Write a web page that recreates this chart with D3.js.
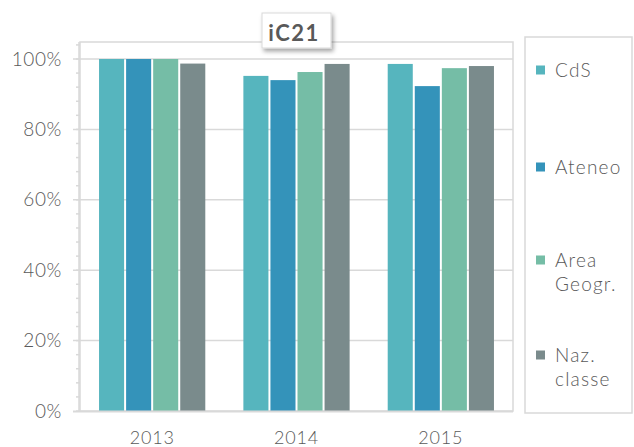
<!DOCTYPE html>
<html><head><meta charset="utf-8">
<script src="https://cdn.jsdelivr.net/npm/d3@7"></script>
<style>body{margin:0;background:#fff;} svg{display:block;font-family:"Lato","Open Sans",sans-serif;}</style>
</head><body>
<svg id="c" width="634" height="447"></svg>
<script>
const years = ["2013", "2014", "2015"];
const seriesNames = ["CdS", "Ateneo", "Area Geogr.", "Naz. classe"];
const legendLines = [["CdS"], ["Ateneo"], ["Area", "Geogr."], ["Naz.", "classe"]];
const cds = [100, 95.2, 98.6];
const ateneo = [100, 94.0, 92.3];
const area = [100, 96.3, 97.4];
const naz = [98.7, 98.6, 98.0];
const colors = ["#56B5BE", "#3493BA", "#75BDA6", "#7A8B8C"];
const yTicks = [0, 20, 40, 60, 80, 100];
const title = "iC21";

const values = [cds, ateneo, area, naz];
const svg = d3.select("#c");
const M = {l: 80, r: 513, t: 42, b: 411};
const y = d3.scaleLinear().domain([0, 100]).range([M.b, 59]);
const x0 = d3.scaleBand().domain(years).range([M.l, M.r]).paddingInner(0.25).paddingOuter(0.125);
const x1 = d3.scaleBand().domain(seriesNames).range([0, x0.bandwidth()]).padding(0);
const FONT = "Lato, 'Open Sans', sans-serif";
const TXT = "#595959";

svg.append("rect").attr("x", M.l).attr("y", M.t).attr("width", M.r - M.l).attr("height", M.b - M.t)
  .attr("fill", "none").attr("stroke", "#d9d9d9").attr("stroke-width", 1.5);

const minor = d3.range(0, 105, 4);
svg.append("g").selectAll("line").data(minor).join("line")
  .attr("x1", 76).attr("x2", M.l).attr("y1", d => y(d)).attr("y2", d => y(d))
  .attr("stroke", "#d9d9d9").attr("stroke-width", 1.5);

svg.append("g").selectAll("line").data(yTicks.filter(d => d > 0)).join("line")
  .attr("x1", 73).attr("x2", M.r).attr("y1", d => y(d)).attr("y2", d => y(d))
  .attr("stroke", "#d9d9d9").attr("stroke-width", 1.5);

svg.append("line").attr("x1", 79).attr("x2", 79).attr("y1", M.t).attr("y2", M.b)
  .attr("stroke", "#d9d9d9").attr("stroke-width", 1.5);

const yAxis = d3.axisLeft(y).tickValues(yTicks).tickFormat(d => d + "%").tickSize(0).tickPadding(0);
const ya = svg.append("g").attr("transform", "translate(62,0)").call(yAxis);
ya.select(".domain").remove();
ya.selectAll("text").attr("font-size", 19).attr("font-weight", 300).attr("letter-spacing", "0.6px")
  .attr("fill", TXT).attr("font-family", FONT);

const g = svg.append("g");
years.forEach((yr, i) => {
  const gg = g.append("g").attr("transform", `translate(${x0(yr)},0)`);
  gg.selectAll("rect").data(seriesNames.map((s, j) => ({s, v: values[j][i], c: colors[j]}))).join("rect")
    .attr("x", d => x1(d.s) + 1).attr("width", x1.bandwidth() - 2)
    .attr("y", d => y(d.v)).attr("height", d => y(0) - y(d.v))
    .attr("fill", d => d.c);
});

svg.append("line").attr("x1", 73).attr("x2", M.r).attr("y1", M.b + 0.5).attr("y2", M.b + 0.5)
  .attr("stroke", "#d9d9d9").attr("stroke-width", 2);

const xAxis = d3.axisBottom(x0).tickSize(0).tickPadding(0);
const xa = svg.append("g").attr("transform", `translate(0,${M.b + 20})`).call(xAxis);
xa.select(".domain").remove();
xa.selectAll("text").attr("font-size", 18).attr("font-weight", 300).attr("letter-spacing", "0.8px")
  .attr("fill", TXT).attr("dy", "0.71em").attr("font-family", FONT);

const defs = svg.append("defs");
const f = defs.append("filter").attr("id", "sh").attr("x", "-20%").attr("y", "-20%").attr("width", "150%").attr("height", "160%");
f.append("feDropShadow").attr("dx", 2).attr("dy", 3).attr("stdDeviation", 2).attr("flood-color", "#000").attr("flood-opacity", 0.35);
svg.append("rect").attr("x", 262).attr("y", 13).attr("width", 69).attr("height", 35)
  .attr("fill", "#fff").attr("stroke", "#d9d9d9").attr("stroke-width", 1).attr("filter", "url(#sh)");
svg.append("text").attr("x", 294).attr("y", 41).attr("text-anchor", "middle")
  .attr("font-size", 22).attr("font-weight", "bold").attr("letter-spacing", "1.5px")
  .attr("fill", TXT).attr("font-family", FONT).text(title);

svg.append("rect").attr("x", 525).attr("y", 37).attr("width", 107).attr("height", 376)
  .attr("fill", "#fff").attr("stroke", "#d9d9d9").attr("stroke-width", 1.5);
const legY = [70, 167, 260, 355];
legendLines.forEach((lines, j) => {
  svg.append("rect").attr("x", 536).attr("y", legY[j] - 4.5).attr("width", 9).attr("height", 9).attr("fill", colors[j]);
  lines.forEach((t, k) => {
    svg.append("text").attr("x", 555).attr("y", legY[j] + k * 24).attr("dy", "0.35em")
      .attr("font-size", 19).attr("font-weight", 300).attr("letter-spacing", "1.2px")
      .attr("fill", TXT).attr("font-family", FONT).text(t);
  });
});
</script>
</body></html>
